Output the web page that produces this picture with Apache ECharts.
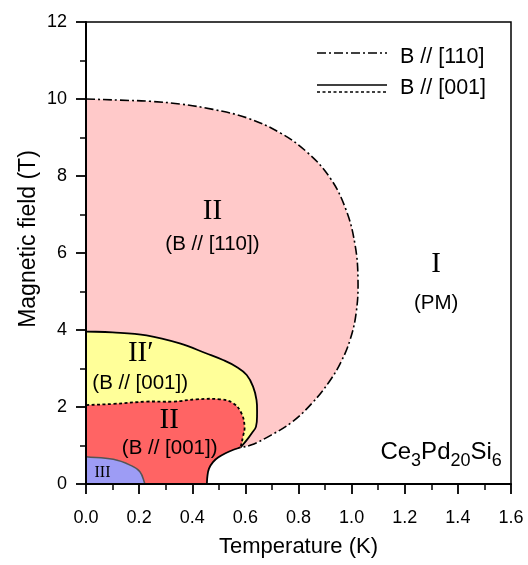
<!DOCTYPE html>
<html><head><meta charset="utf-8">
<script src="https://cdn.jsdelivr.net/npm/echarts/dist/echarts.min.js"></script>
<style>html,body{margin:0;padding:0;background:#fff}#c{width:528px;height:565px}</style>
</head><body><div id="c"></div>
<script>
// tick labels
const xTickLabels = ['0.0','0.2','0.4','0.6','0.8','1.0','1.2','1.4','1.6'];
const yTickLabels = ['0','2','4','6','8','10','12'];

// phase boundaries, [Temperature (K), Magnetic field (T)]
const boundary110 = [[0,10],[0.128,9.97],[0.241,9.94],[0.354,9.87],[0.478,9.73],[0.606,9.51],[0.731,9.12],[0.832,8.62],[0.919,7.95],[0.979,7.12],[1.013,6.21],[1.024,5.3],[1.017,4.44],[0.994,3.74],[0.96,3.17],[0.915,2.65],[0.851,2.1],[0.776,1.61],[0.697,1.27],[0.621,1.01],[0.582,0.95]];
const boundaryIIprime = [[0,3.96],[0.1,3.94],[0.228,3.86],[0.353,3.65],[0.454,3.39],[0.516,3.22],[0.567,3.04],[0.605,2.83],[0.629,2.53],[0.642,2.18],[0.644,1.84],[0.64,1.49],[0.624,1.32],[0.605,1.14],[0.582,0.95]];
const boundaryII001 = [[0,2.05],[0.103,2.08],[0.228,2.14],[0.328,2.14],[0.416,2.2],[0.504,2.2],[0.554,2.1],[0.585,1.84],[0.597,1.49],[0.591,1.23],[0.582,0.95]];
const boundaryLow = [[0.582,0.95],[0.555,0.89],[0.525,0.8],[0.5,0.7],[0.478,0.57],[0.463,0.4],[0.457,0.2],[0.455,0]];
const boundaryIII = [[0,0.71],[0.103,0.64],[0.166,0.49],[0.203,0.32],[0.222,0]];

// region annotations: text, [T, B]
const labelTexts = ['II','(B // [110])','I','(PM)','II\u2032','(B // [001])','II','(B // [001])','III','compound'];
const labelAt = [[0.476,7.07],[0.476,6.23],[1.318,5.71],[1.318,4.69],[0.206,3.38],[0.204,2.62],[0.313,1.64],[0.315,0.93],[0.062,0.3],[1.337,0.8]];
const labelKind = ['roman','sans','roman','sans','roman','sans','roman','sans','small','formula'];

const SANS = "'Liberation Sans', Arial, sans-serif";
const SERIF = "'Liberation Serif', 'Times New Roman', serif";
const SMOOTH = 0.4;

function dupEnds(arr){ return [arr[0]].concat(arr, [arr[arr.length-1]]); }
function regionPts(upper, lower){
  let pts = [[0,0],[0,0]].concat(dupEnds(upper).slice(0,-1));
  if (lower) pts = pts.concat(lower.slice(1));
  const last = pts[pts.length-1];
  pts.push(last);
  return pts;
}
function fillSeries(pts, color){
  return {type:'custom', coordinateSystem:'cartesian2d', silent:true, data:[0],
    renderItem:(p, api)=>({type:'polygon', shape:{points: pts.map(q=>api.coord(q)), smooth:SMOOTH}, style:{fill:color}})};
}
function lineSeries(arr, stroke, width, dash){
  const pts = dupEnds(arr);
  return {type:'custom', coordinateSystem:'cartesian2d', silent:true, data:[0],
    renderItem:(p, api)=>({type:'polyline', shape:{points: pts.map(q=>api.coord(q)), smooth:SMOOTH},
      style:{stroke:stroke, lineWidth:width, fill:null, lineDash:dash||null, lineCap:'butt'}})};
}

const labelSeries = {type:'custom', coordinateSystem:'cartesian2d', silent:true, z:5,
  data: labelTexts.map((t,i)=>i),
  renderItem:(p, api)=>{
    const i = p.dataIndex; const c = api.coord(labelAt[i]); const k = labelKind[i];
    let style = {text: labelTexts[i], fill:'#000', align:'center', verticalAlign:'middle'};
    if (k==='roman') { style.fontFamily = SERIF; style.fontSize = 29; }
    else if (k==='sans') { style.fontFamily = SANS; style.fontSize = 20.5; }
    else if (k==='small') { style.fontFamily = SERIF; style.fontSize = 16; }
    else {
      style.text = '{a|Ce}{s|3}{a|Pd}{s|20}{a|Si}{s|6}';
      style.rich = {a:{fontFamily:SANS, fontSize:24, lineHeight:26, verticalAlign:'top'},
                    s:{fontFamily:SANS, fontSize:18, lineHeight:20, padding:[12,0,0,0], verticalAlign:'top'}};
    }
    return {type:'text', x:c[0], y:c[1], style:style};
  }};

const chart = echarts.init(document.getElementById('c'), null, {renderer:'canvas'});
chart.setOption({
  animation:false,
  backgroundColor:'#fff',
  grid:{left:86, right:17, top:22, bottom:81, show:true, borderColor:'#000', borderWidth:1.5, backgroundColor:'transparent'},
  xAxis:{type:'value', min:0, max:1.6, interval:0.2, z:10,
    axisLine:{show:true, onZero:false, lineStyle:{color:'#000', width:2}},
    axisTick:{show:true, length:10, lineStyle:{color:'#000', width:1.8}},
    minorTick:{show:true, splitNumber:2, length:6, lineStyle:{color:'#000', width:1.5}},
    splitLine:{show:false},
    axisLabel:{color:'#000', fontSize:18, fontFamily:SANS, margin:25, formatter:v=>xTickLabels[Math.round(v/0.2)]},
    name:'Temperature (K)', nameLocation:'middle', nameGap:52, nameTextStyle:{color:'#000', fontSize:22, fontFamily:SANS}},
  yAxis:{type:'value', min:0, max:12, interval:2, z:10,
    axisLine:{show:true, onZero:false, lineStyle:{color:'#000', width:2}},
    axisTick:{show:true, length:10, lineStyle:{color:'#000', width:1.8}},
    minorTick:{show:true, splitNumber:2, length:6, lineStyle:{color:'#000', width:1.5}},
    splitLine:{show:false},
    axisLabel:{color:'#000', fontSize:18, fontFamily:SANS, margin:19, formatter:v=>yTickLabels[Math.round(v/2)]}},
  graphic:[
    {type:'text', x:29, y:239, rotation:Math.PI/2, style:{text:'Magnetic field (T)', fill:'#000', fontSize:23, fontFamily:SANS, align:'center', verticalAlign:'middle'}},
    {type:'line', shape:{x1:317,y1:53,x2:387,y2:53}, style:{stroke:'#000', lineWidth:1.5, lineDash:[9,3,2,3]}},
    {type:'text', x:400, y:57, style:{text:'B // [110]', fill:'#000', fontSize:21.5, fontFamily:SANS, align:'left', verticalAlign:'middle'}},
    {type:'line', shape:{x1:317,y1:85,x2:387,y2:85}, style:{stroke:'#000', lineWidth:1.6}},
    {type:'line', shape:{x1:317,y1:92,x2:387,y2:92}, style:{stroke:'#000', lineWidth:1.6, lineDash:[3,2.5]}},
    {type:'text', x:400, y:88, style:{text:'B // [001]', fill:'#000', fontSize:21.5, fontFamily:SANS, align:'left', verticalAlign:'middle'}}
  ],
  series:[
    fillSeries(regionPts(boundary110, boundaryLow), '#ffc9c9'),
    fillSeries(regionPts(boundaryIIprime, boundaryLow), '#ffff99'),
    lineSeries(boundaryIIprime, '#000', 1.8),
    fillSeries(regionPts(boundaryII001, boundaryLow), '#ff6464'),
    lineSeries(boundaryII001, '#000', 1.8, [3,2.5]),
    fillSeries(regionPts(boundaryIII), '#9d9cf5'),
    lineSeries(boundaryIII, '#555', 1.5),
    lineSeries(boundary110, '#000', 1.6, [9,3,2,3]),
    lineSeries(boundaryLow, '#000', 1.8),
    labelSeries
  ]
});
</script></body></html>
